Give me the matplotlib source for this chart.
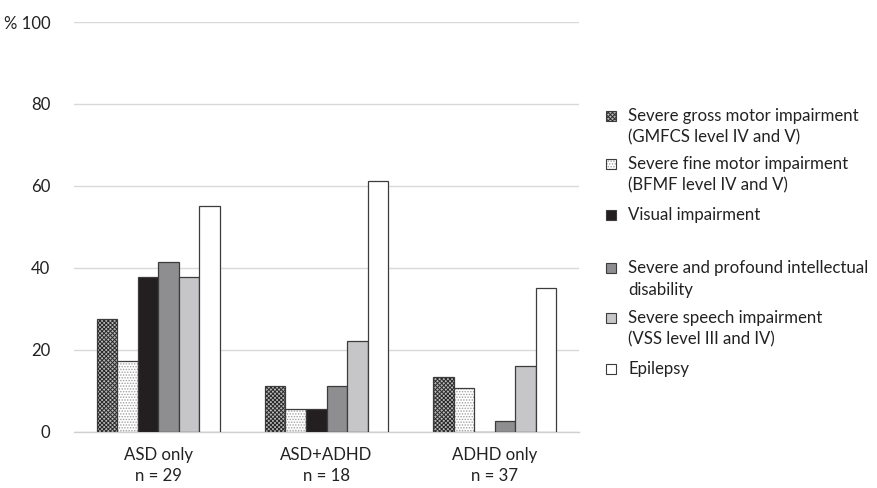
import matplotlib
matplotlib.use("Agg")
import matplotlib.pyplot as plt
from matplotlib.patches import Rectangle
import numpy as np

plt.rcParams['font.family'] = ['Lato', 'DejaVu Sans']
plt.rcParams['hatch.linewidth'] = 0.7

groups = ["ASD only\nn = 29", "ASD+ADHD\nn = 18", "ADHD only\nn = 37"]
series = [
    "Severe gross motor impairment\n(GMFCS level IV and V)",
    "Severe fine motor impairment\n(BFMF level IV and V)",
    "Visual impairment",
    "Severe and profound intellectual\ndisability",
    "Severe speech impairment\n(VSS level III and IV)",
    "Epilepsy",
]
gross = [27.6, 11.1, 13.5]
fine = [17.2, 5.6, 10.8]
visual = [37.9, 5.6, 0.0]
intellectual = [41.4, 11.1, 2.7]
speech = [37.9, 22.2, 16.2]
epilepsy = [55.2, 61.1, 35.1]
values = [gross, fine, visual, intellectual, speech, epilepsy]

faces = ["#b8b8b8", "white", "#231f20", "#8e8e90", "#c6c6c8", "white"]
hatches = ["xxxxxxxx", "......", None, None, None, None]
hatch_cols = ["#2a2a2a", "#a0a0a0", None, None, None, None]
edge = "#3c3c3c"
fs = 12.1

fig = plt.figure(figsize=(8.77, 4.88), dpi=100)
ax = fig.add_axes([74 / 877, 1 - 432 / 488, 505 / 877, 410 / 488])

x = np.arange(len(groups))
w = 0.122
for i, vals in enumerate(values):
    pos = x + (i - 2.5) * w
    bars = ax.bar(pos, vals, width=w, color=faces[i], edgecolor=edge,
                  linewidth=0.9, zorder=3)
    if hatches[i]:
        for b in bars:
            b.set_hatch(hatches[i])
            b._hatch_color = matplotlib.colors.to_rgba(hatch_cols[i])

ax.set_xlim(-0.5, 2.5)
ax.set_ylim(0, 100)
ax.set_yticks([0, 20, 40, 60, 80, 100])
ax.set_yticklabels(["0", "20", "40", "60", "80", "% 100"])
ax.set_xticks(x)
ax.set_xticklabels(groups, linespacing=1.4)
ax.tick_params(length=0, labelsize=fs, colors="#222222")
ax.tick_params(axis='y', pad=17)
ax.tick_params(axis='x', pad=11)
ax.grid(axis='y', color="#d9d9d9", linewidth=1, zorder=0)
for s in ["top", "right", "left"]:
    ax.spines[s].set_visible(False)
ax.spines["bottom"].set_color("#d0d0d0")
ax.spines["bottom"].set_linewidth(1)

# legend, drawn by hand so the entries sit on an even step
tops = [116, 164, 215, 268, 318, 369]
for i, lab in enumerate(series):
    yc = 1 - tops[i] / 488
    r = Rectangle((606 / 877, yc - 5 / 488), 10 / 877, 10 / 488,
                  transform=fig.transFigure, facecolor=faces[i],
                  edgecolor=edge, linewidth=0.8)
    if hatches[i]:
        r.set_hatch(hatches[i])
        r._hatch_color = matplotlib.colors.to_rgba(hatch_cols[i])
    fig.add_artist(r)
    for k, line in enumerate(lab.split("\n")):
        fig.text(628 / 877, 1 - (tops[i] + 21.5 * k) / 488, line,
                 va="center", ha="left", fontsize=fs, color="#222222")

fig.savefig("out.png", dpi=100)
